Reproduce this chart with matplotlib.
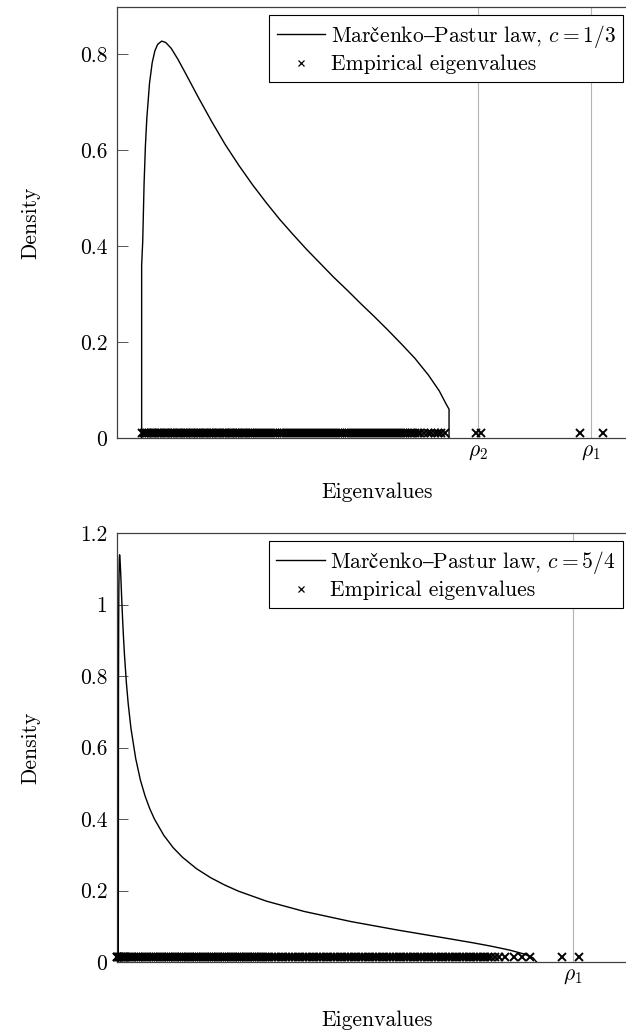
import matplotlib
matplotlib.use('Agg')
import matplotlib.pyplot as plt

# Marcenko-Pastur density, top panel (c = 1/3)
mp_top_x = [0.182, 0.182, 0.19, 0.20, 0.21, 0.22, 0.24, 0.26, 0.28, 0.30, 0.33, 0.36,
            0.40, 0.45, 0.50, 0.60, 0.70, 0.80, 0.90, 1.00, 1.10, 1.20, 1.30, 1.40,
            1.50, 1.60, 1.70, 1.80, 1.90, 2.00, 2.10, 2.20, 2.30, 2.38, 2.43, 2.452, 2.452]
mp_top_y = [0.0, 0.36, 0.41, 0.53, 0.61, 0.665, 0.739, 0.782, 0.807, 0.820, 0.827, 0.824,
            0.812, 0.789, 0.763, 0.710, 0.659, 0.611, 0.568, 0.528, 0.491, 0.456, 0.424, 0.393,
            0.364, 0.335, 0.308, 0.280, 0.253, 0.225, 0.196, 0.166, 0.131, 0.098, 0.071, 0.060, 0.0]

# bottom panel (c = 5/4)
mp_bot_x = [0.0139, 0.016, 0.018, 0.02, 0.025, 0.028, 0.032, 0.04, 0.05, 0.06, 0.07, 0.08,
            0.10, 0.12, 0.15, 0.20, 0.25, 0.30, 0.35, 0.40, 0.50, 0.60, 0.70, 0.85, 1.0,
            1.15, 1.3, 1.6, 2.0, 2.5, 3.0, 3.5, 3.8, 4.0, 4.2, 4.35, 4.45, 4.486]
mp_bot_y = [0.0, 0.765, 0.954, 1.048, 1.132, 1.139, 1.129, 1.084, 1.019, 0.958, 0.905, 0.859,
            0.782, 0.722, 0.652, 0.569, 0.509, 0.4645, 0.429, 0.400, 0.3545, 0.320, 0.293,
            0.261, 0.236, 0.2155, 0.198, 0.170, 0.1415, 0.1132, 0.0894, 0.0674, 0.054,
            0.0443, 0.0332, 0.0225, 0.0114, 0.0]

# empirical eigenvalues (bulk + spikes)
eig_top = [0.188, 0.20, 0.212, 0.224, 0.236, 0.248, 0.26, 0.272, 0.284, 0.296, 0.308, 0.32,
           0.332, 0.344, 0.356, 0.368, 0.38, 0.392, 0.404, 0.416, 0.428, 0.44, 0.452, 0.464,
           0.476, 0.488, 0.50, 0.512, 0.524, 0.536, 0.548, 0.56, 0.572, 0.584, 0.596, 0.608,
           0.62, 0.632, 0.644, 0.656, 0.668, 0.68, 0.692, 0.704, 0.716, 0.728, 0.74, 0.752,
           0.764, 0.776, 0.788, 0.80, 0.812, 0.824, 0.836, 0.848, 0.86, 0.872, 0.884, 0.896,
           0.908, 0.92, 0.932, 0.944, 0.956, 0.968, 0.98, 0.992,
           1.005, 1.02, 1.035, 1.05, 1.065, 1.08, 1.095, 1.11, 1.125, 1.14, 1.155, 1.17,
           1.185, 1.20, 1.215, 1.23, 1.245, 1.26, 1.275, 1.29, 1.305, 1.32, 1.335, 1.35,
           1.365, 1.38, 1.395, 1.41, 1.425, 1.44, 1.455, 1.47, 1.485, 1.50, 1.515, 1.53,
           1.545, 1.56, 1.575, 1.59, 1.605, 1.62, 1.635, 1.65, 1.665, 1.68, 1.695, 1.71,
           1.725, 1.74, 1.755, 1.77, 1.785, 1.80, 1.815, 1.83, 1.845, 1.86, 1.875, 1.89,
           1.905, 1.92, 1.935, 1.95, 1.965, 1.98, 1.995, 2.01, 2.025, 2.04, 2.055, 2.07,
           2.085, 2.10, 2.115, 2.13, 2.145, 2.16, 2.18, 2.20, 2.22, 2.24,
           2.27, 2.30, 2.32, 2.35, 2.37, 2.395, 2.42,
           2.651, 2.688, 3.42, 3.59]

eig_bot = [0.0, 0.0, 0.014, 0.02, 0.03, 0.04, 0.05, 0.06, 0.07, 0.08, 0.09, 0.10,
           0.12, 0.14, 0.16, 0.18, 0.20, 0.22, 0.24, 0.26, 0.28, 0.30, 0.32, 0.34, 0.36,
           0.38, 0.40, 0.42, 0.44, 0.46, 0.48, 0.50, 0.52, 0.54, 0.56, 0.58, 0.60, 0.62,
           0.64, 0.66, 0.68, 0.70, 0.72, 0.74, 0.76, 0.78, 0.80, 0.82, 0.84, 0.86, 0.88,
           0.90, 0.92, 0.94, 0.96, 0.98, 1.00, 1.02, 1.04, 1.06, 1.08, 1.10, 1.12, 1.14,
           1.16, 1.18, 1.20, 1.22, 1.24, 1.26, 1.28, 1.30, 1.32, 1.34, 1.36, 1.38, 1.40,
           1.42, 1.44, 1.46, 1.48, 1.50, 1.52, 1.54, 1.56, 1.58, 1.60,
           1.63, 1.66, 1.69, 1.72, 1.75, 1.78, 1.81, 1.84, 1.87, 1.90, 1.93, 1.96, 1.99,
           2.02, 2.05, 2.08, 2.11, 2.14, 2.17, 2.20, 2.23, 2.26, 2.29, 2.32, 2.35, 2.38,
           2.41, 2.44, 2.47, 2.50, 2.53, 2.56, 2.59, 2.62, 2.65, 2.68, 2.71, 2.74, 2.77,
           2.80, 2.83, 2.86, 2.89, 2.92, 2.95, 2.98, 3.01, 3.04, 3.07, 3.10, 3.13, 3.16,
           3.19, 3.22, 3.25, 3.28, 3.31, 3.34, 3.37, 3.40, 3.43, 3.46, 3.49, 3.52, 3.55,
           3.58, 3.61, 3.64, 3.67, 3.70, 3.73, 3.76, 3.79, 3.82, 3.85, 3.88, 3.91, 3.94,
           3.97, 4.00, 4.04, 4.08,
           4.15, 4.24, 4.33, 4.42,
           4.76, 4.94]

rho_top = [2.6667, 3.5]
rho_top_labels = [r'$\rho_2$', r'$\rho_1$']
rho_bot = [4.875]
rho_bot_labels = [r'$\rho_1$']

yticks_top = [0, 0.2, 0.4, 0.6, 0.8]
yticks_top_labels = ['0', '0.2', '0.4', '0.6', '0.8']
yticks_bot = [0, 0.2, 0.4, 0.6, 0.8, 1.0, 1.2]
yticks_bot_labels = ['0', '0.2', '0.4', '0.6', '0.8', '1', '1.2']

plt.rcParams['font.family'] = ['cmr10', 'DejaVu Serif']
plt.rcParams['mathtext.fontset'] = 'cm'
plt.rcParams['axes.unicode_minus'] = False
plt.rcParams['font.size'] = 15.5

fig = plt.figure(figsize=(6.26, 10.34), dpi=100)
W, H = 626.0, 1034.0

def panel(rect, mx, my, eig, ey, rho, rho_lab, xmax, ymax, yt, ytl, label, xlpad):
    l, t, r, b = rect
    ax = fig.add_axes([l / W, 1 - b / H, (r - l) / W, (b - t) / H])
    for x in rho:
        ax.axvline(x, color='#b4b4b4', lw=0.8, zorder=1)
    ax.plot(mx, my, color='black', lw=1.0, zorder=3, label=label)
    ax.plot(eig, [ey] * len(eig), ls='none', marker='x', ms=6, mew=1.4,
            color='black', clip_on=False, zorder=4, label='Empirical eigenvalues')
    ax.set_xlim(0, xmax)
    ax.set_ylim(0, ymax)
    ax.set_xticks(rho)
    ax.set_xticklabels(rho_lab)
    ax.set_yticks(yt)
    ax.set_yticklabels(ytl)
    ax.tick_params(axis='x', length=0, pad=3)
    ax.tick_params(axis='y', direction='in', length=8, width=0.7, color='#555555',
                   left=True, right=True, pad=7)
    for s in ax.spines.values():
        s.set_color('#404040')
        s.set_linewidth(0.9)
    ax.set_xlabel('Eigenvalues', labelpad=xlpad)
    ax.set_ylabel('Density', labelpad=28)
    leg = ax.legend(loc='upper right', bbox_to_anchor=((623 - l) / (r - l), 1 - 8 / (b - t)),
                    borderaxespad=0, fancybox=False, framealpha=1, edgecolor='black',
                    handlelength=2.25, handletextpad=0.25, labelspacing=0.25,
                    borderpad=0.35, fontsize=15.5)
    leg.get_frame().set_linewidth(0.8)
    for h in leg.legend_handles[1:]:
        h.set_markersize(4.5)
        h.set_markeredgewidth(0.9)
    return ax

panel((117, 7, 637, 438), mp_top_x, mp_top_y, eig_top, 0.011, rho_top, rho_top_labels,
      3.84, 0.898, yticks_top, yticks_top_labels,
      r'$\mathrm{Marčenko–Pastur}$ law, $c = 1/3$', 15)
panel((117, 533, 637, 962), mp_bot_x, mp_bot_y, eig_bot, 0.015, rho_bot, rho_bot_labels,
      5.56, 1.2, yticks_bot, yticks_bot_labels,
      r'$\mathrm{Marčenko–Pastur}$ law, $c = 5/4$', 18)

fig.savefig('out.png', dpi=100)
